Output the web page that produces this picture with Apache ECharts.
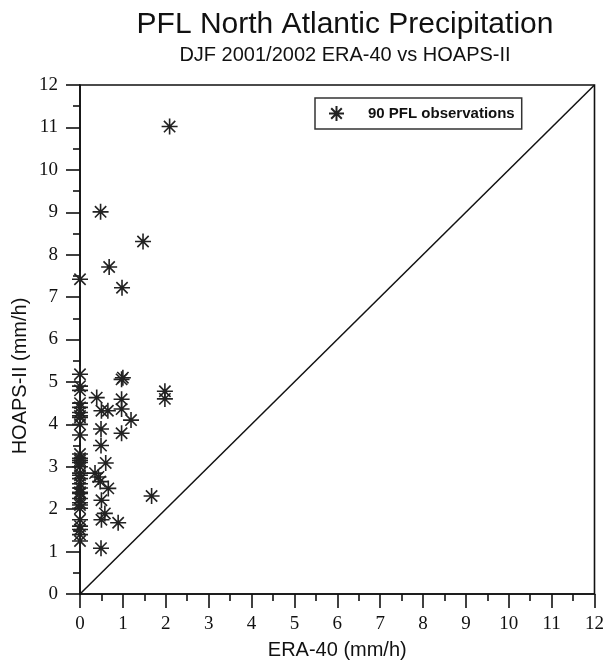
<!DOCTYPE html>
<html>
<head>
<meta charset="utf-8">
<script src="https://cdn.jsdelivr.net/npm/echarts@6/dist/echarts.min.js"></script>
<style>
  html, body { margin: 0; padding: 0; background: #fff; }
</style>
</head>
<body>
<div id="chart" style="width:607px;height:665px;"></div>
<script>
    // ERA-40 (x) vs HOAPS-II (y), mm/h, paired by index
    const era40 = [
        0, 0, 0, 0, 0, 0, 0, 0, 0, 0,
        0, 0, 0, 0, 0, 0, 0, 0, 0, 0,
        0, 0, 0, 0, 0, 0, 0, 0, 0, 0,
        0, 0,
        0.39, 0.5, 0.65, 0.49, 0.49, 0.6, 0.35, 0.43, 0.47, 0.66,
        0.5, 0.58, 0.5, 0.89, 0.49,
        0.97, 1.0, 0.97, 0.97, 1.19, 0.97,
        1.98, 1.98, 1.67,
        2.09, 0.48, 1.47, 0.68, 0.98
    ];
    const hoaps = [
        7.42, 5.18, 4.9, 4.8, 4.5, 4.4, 4.28, 4.2, 4.16, 4.0,
        3.75, 3.3, 3.2, 3.15, 3.1, 3.0, 2.85, 2.8, 2.72, 2.6,
        2.5, 2.4, 2.37, 2.25, 2.15, 2.1, 2.02, 1.75, 1.6, 1.52,
        1.4, 1.25,
        4.63, 4.32, 4.32, 3.89, 3.5, 3.09, 2.85, 2.76, 2.65, 2.49,
        2.21, 1.9, 1.75, 1.68, 1.08,
        5.06, 5.1, 4.59, 4.36, 4.1, 3.79,
        4.78, 4.6, 2.31,
        11.02, 9.01, 8.31, 7.71, 7.22
    ];
    const diagX = [0, 12];
    const diagY = [0, 12];
    const tickValues = [0, 1, 2, 3, 4, 5, 6, 7, 8, 9, 10, 11, 12];

    const star = 'path://M0,-10L0,10M-10,0L10,0M-7.07,-7.07L7.07,7.07M-7.07,7.07L7.07,-7.07';
    const sans = '"Liberation Sans", Arial, sans-serif';

    let points = [];
    era40.forEach((x, i) => {
        points.push([x, hoaps[i]]);
    });
    let diag = diagX.map((x, i) => [x, diagY[i]]);

    const chart = echarts.init(document.getElementById('chart'));

    const axisCommon = {
        type: 'value',
        min: tickValues[0],
        max: tickValues[tickValues.length - 1],
        interval: 1,
        splitLine: { show: false },
        axisLine: { show: true, onZero: false, lineStyle: { color: '#111', width: 1.6 } },
        axisTick: { show: true, inside: false, length: 14, lineStyle: { color: '#111', width: 1.6 } },
        minorTick: { show: true, splitNumber: 2, length: 7, lineStyle: { color: '#111', width: 1.6 } },
        axisLabel: {
            color: '#111',
            fontFamily: '"Liberation Serif", "DejaVu Serif", serif',
            fontSize: 19
        }
    };

    const option = {
        animation: false,
        title: [{
            text: 'PFL North Atlantic Precipitation',
            left: 340,
            top: 5,
            textAlign: 'center',
            textStyle: { fontFamily: sans, fontSize: 30, fontWeight: 'normal', color: '#111' }
        }, {
            text: 'DJF 2001/2002 ERA-40 vs HOAPS-II',
            left: 340,
            top: 40,
            textAlign: 'center',
            textStyle: { fontFamily: sans, fontSize: 20, fontWeight: 'normal', color: '#111' }
        }],
        legend: {
            data: ['90 PFL observations'],
            left: 315,
            top: 98,
            orient: 'vertical',
            padding: [7, 7, 7, 13],
            borderColor: '#333',
            borderWidth: 1.5,
            itemWidth: 15,
            itemHeight: 15,
            textStyle: {
                fontFamily: sans,
                fontSize: 15,
                fontWeight: 'bold',
                color: '#111',
                padding: [0, 0, 0, 19]
            }
        },
        grid: {
            left: 80,
            right: 11,
            top: 85,
            bottom: 67,
            show: true,
            borderColor: '#111',
            borderWidth: 1.6,
            backgroundColor: 'transparent'
        },
        xAxis: Object.assign({}, axisCommon, {
            name: 'ERA-40 (mm/h)',
            nameLocation: 'middle',
            nameGap: 46,
            nameTextStyle: { fontFamily: sans, fontSize: 20, color: '#111' },
            axisLabel: Object.assign({}, axisCommon.axisLabel, { margin: 21 })
        }),
        yAxis: Object.assign({}, axisCommon, {
            axisLabel: Object.assign({}, axisCommon.axisLabel, { margin: 22 })
        }),
        graphic: [{
            type: 'text',
            x: 20,
            y: 376,
            rotation: Math.PI / 2,
            style: {
                text: 'HOAPS-II (mm/h)',
                fontFamily: sans,
                fontSize: 20,
                fill: '#111',
                align: 'center',
                verticalAlign: 'middle'
            }
        }],
        series: [{
            type: 'line',
            data: diag,
            symbol: 'none',
            silent: true,
            lineStyle: { color: '#111', width: 1.5 }
        }, {
            name: '90 PFL observations',
            type: 'scatter',
            symbol: star,
            symbolSize: 16,
            itemStyle: { color: '#222', borderColor: '#222', borderWidth: 1.6, opacity: 1 },
            data: points
        }]
    };

    chart.setOption(option);
</script>
</body>
</html>
